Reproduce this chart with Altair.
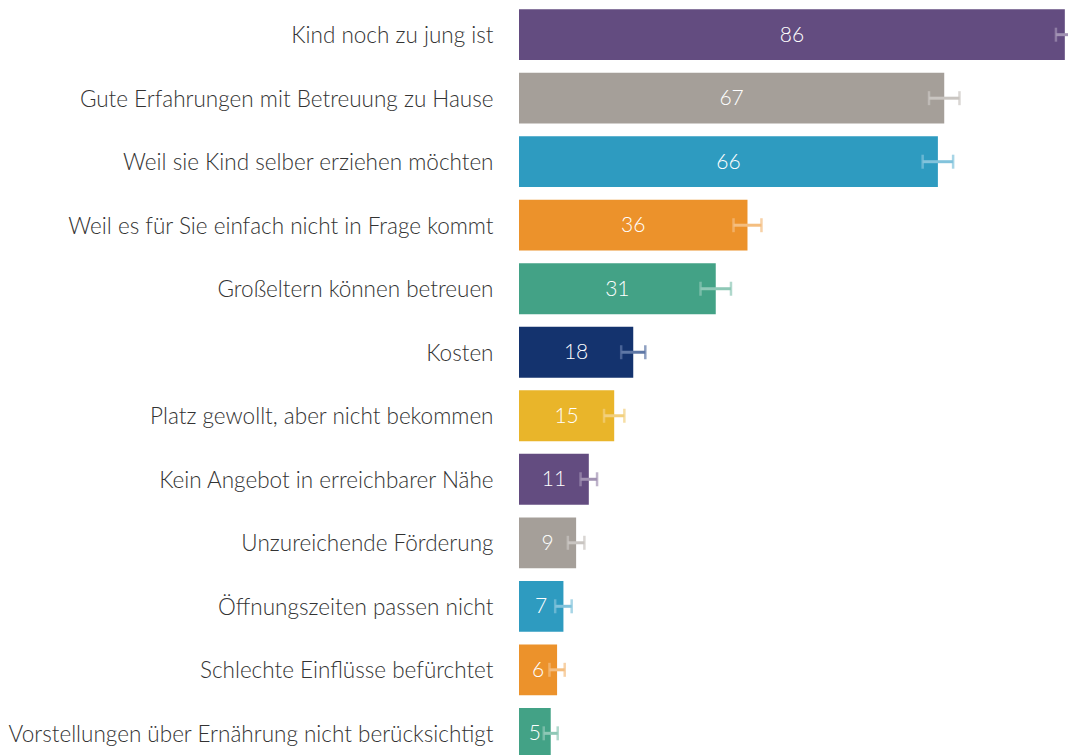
import altair as alt
import pandas as pd

categories = [
    "Kind noch zu jung ist",
    "Gute Erfahrungen mit Betreuung zu Hause",
    "Weil sie Kind selber erziehen möchten",
    "Weil es für Sie einfach nicht in Frage kommt",
    "Großeltern können betreuen",
    "Kosten",
    "Platz gewollt, aber nicht bekommen",
    "Kein Angebot in erreichbarer Nähe",
    "Unzureichende Förderung",
    "Öffnungszeiten passen nicht",
    "Schlechte Einflüsse befürchtet",
    "Vorstellungen über Ernährung nicht berücksichtigt",
]
values = [86, 67, 66, 36, 31, 18, 15, 11, 9, 7, 6, 5]
errors = [1.4, 2.4, 2.4, 2.2, 2.4, 1.9, 1.6, 1.3, 1.3, 1.3, 1.2, 1.1]
bar_colors = ["#634c80", "#a59f99", "#2e9bc0", "#ec922b", "#43a286", "#14336e",
              "#e9b52a", "#634c80", "#a59f99", "#2e9bc0", "#ec922b", "#43a286"]
err_colors = ["#a293b3", "#c9c5c1", "#82c3dc", "#f4be80", "#8ec8b6", "#5f78a6",
              "#f2d07f", "#a293b3", "#c9c5c1", "#82c3dc", "#f4be80", "#8ec8b6"]

df = pd.DataFrame({
    "cat": categories,
    "value": values,
    "lo": [v - e for v, e in zip(values, errors)],
    "hi": [v + e for v, e in zip(values, errors)],
    "mid": [v / 2 for v in values],
    "label": [str(v) for v in values],
})

FONT = "Lato"

y = alt.Y("cat:N", sort=categories, title=None,
          scale=alt.Scale(paddingInner=0.2, paddingOuter=0.02),
          axis=alt.Axis(domain=False, ticks=False, labelFontSize=22.5,
                        labelFont=FONT, labelFontWeight=300, labelColor="#333333",
                        labelPadding=26, labelLimit=0, labelOffset=1.5))
xscale = alt.Scale(domain=[0, 86.5], nice=False, zero=True)

base = alt.Chart(df)

bars = base.mark_bar().encode(
    x=alt.X("value:Q", scale=xscale, axis=None),
    y=y,
    color=alt.Color("cat:N", scale=alt.Scale(domain=categories, range=bar_colors), legend=None),
)

err_rule = base.mark_rule(strokeWidth=3).encode(
    x=alt.X("lo:Q", scale=xscale, axis=None),
    x2="hi:Q",
    y=alt.Y("cat:N", sort=categories),
    color=alt.Color("cat:N", scale=alt.Scale(domain=categories, range=err_colors), legend=None),
)
err_lo = base.mark_tick(size=14, thickness=2.5).encode(
    x=alt.X("lo:Q", scale=xscale, axis=None),
    y=alt.Y("cat:N", sort=categories),
    color=alt.Color("cat:N", scale=alt.Scale(domain=categories, range=err_colors), legend=None),
)
err_hi = base.mark_tick(size=14, thickness=2.5).encode(
    x=alt.X("hi:Q", scale=xscale, axis=None),
    y=alt.Y("cat:N", sort=categories),
    color=alt.Color("cat:N", scale=alt.Scale(domain=categories, range=err_colors), legend=None),
)

labels = base.mark_text(color="white", fontSize=21, font=FONT, fontWeight=300,
                        align="center", baseline="middle", dy=1).encode(
    x=alt.X("mid:Q", scale=xscale, axis=None),
    y=alt.Y("cat:N", sort=categories),
    text="label:N",
)

chart = alt.layer(bars, err_rule, err_lo, err_hi, labels).resolve_scale(
    color="independent"
).properties(
    width=549, height=752,
    padding={"left": 511, "top": 0, "right": 0, "bottom": 0},
    autosize=alt.AutoSizeParams(type="none"),
).configure_view(stroke=None)

chart.save("out.html", embed_options={"renderer": "svg", "actions": False})
